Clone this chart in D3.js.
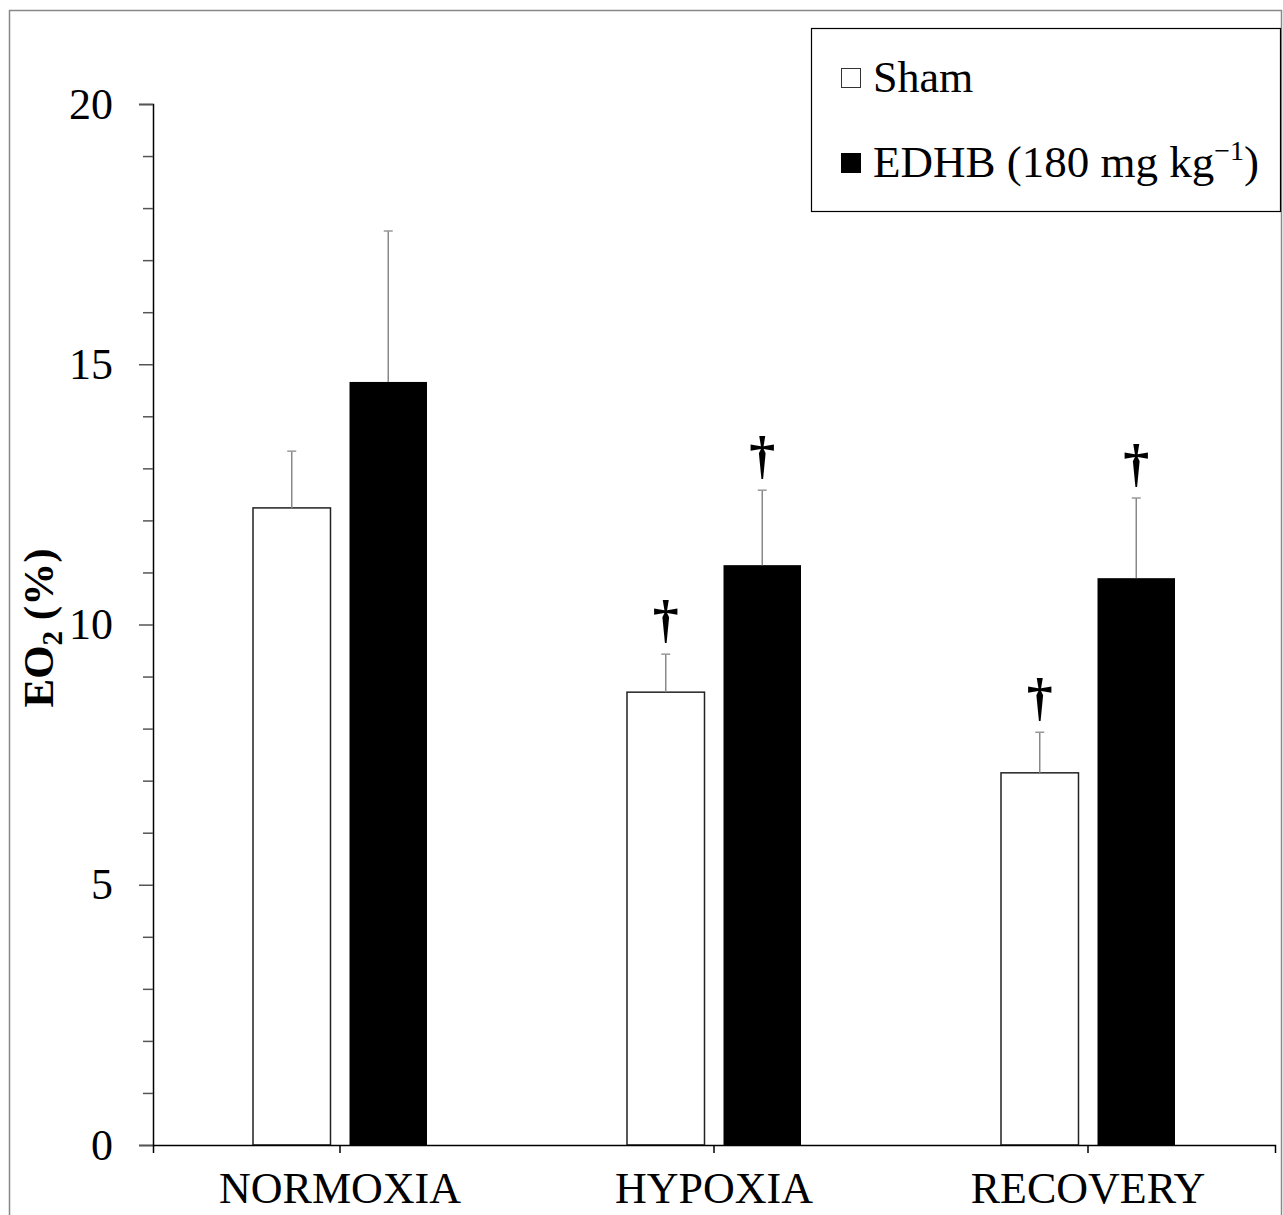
<!DOCTYPE html>
<html>
<head>
<meta charset="utf-8">
<script src="https://cdn.jsdelivr.net/npm/d3@7"></script>
<style>
  body { margin: 0; background: #fff; }
  text { font-family: "Liberation Serif", "Times New Roman", serif; }
</style>
</head>
<body>
<div id="chart"></div>
<script>
// data
const categories = ['NORMOXIA', 'HYPOXIA', 'RECOVERY'];
const seriesNames = ['Sham', 'EDHB'];
const shamMean = [12.24, 8.70, 7.15];
const shamErr = [1.09, 0.73, 0.78];
const edhbMean = [14.66, 11.14, 10.89];
const edhbErr = [2.90, 1.44, 1.54];
const shamSig = [false, true, true];
const edhbSig = [false, true, true];
const yTicks = d3.range(0, 21, 1);

var svgWidth = 1283;
var svgHeight = 1215;

var margin = { top: 104, right: 8, bottom: 70, left: 153 };
var chartWidth = svgWidth - margin.left - margin.right;
var chartHeight = svgHeight - margin.top - margin.bottom;

var svg = d3.select('#chart')
  .append('svg')
  .attr('width', svgWidth)
  .attr('height', svgHeight);

// outer frame
svg.append('rect')
  .attr('x', 9.5).attr('y', 10.5)
  .attr('width', 1272).attr('height', 1260)
  .attr('fill', 'none')
  .attr('stroke', '#888')
  .attr('stroke-width', 1.5);

var chartGroup = svg.append('g')
  .attr('transform', `translate(${margin.left}, ${margin.top})`);

// build rows from arrays
var rows = categories.map((c, i) => ({
  cat: c,
  vals: [
    { s: 'Sham', v: shamMean[i], e: shamErr[i], sig: shamSig[i] },
    { s: 'EDHB', v: edhbMean[i], e: edhbErr[i], sig: edhbSig[i] }
  ]
}));

var yScale = d3.scaleLinear().domain([0, 20]).range([chartHeight, 0]);
var xScale = d3.scaleBand().domain(categories).range([0, chartWidth]);
var groupW = 174;
var x1 = d3.scaleBand().domain(seriesNames)
  .range([(xScale.bandwidth() - groupW) / 2, (xScale.bandwidth() + groupW) / 2])
  .paddingInner(0.197);

// y axis
var yAxis = d3.axisLeft(yScale)
  .tickValues(yTicks)
  .tickSize(14)
  .tickPadding(26)
  .tickFormat(d => d % 5 === 0 ? d : '');
var yG = chartGroup.append('g').call(yAxis);
yG.select('.domain').attr('stroke', '#000').attr('stroke-width', 1.5);
yG.selectAll('.tick line')
  .attr('stroke', '#555').attr('stroke-width', 1.5)
  .attr('x2', d => d % 5 === 0 ? -14 : -10);
yG.selectAll('.tick text')
  .attr('font-size', 44)
  .attr('fill', '#000')
  .style('font-family', '"Liberation Serif", serif');

// bars
var groups = chartGroup.selectAll('.grp')
  .data(rows)
  .enter()
  .append('g')
  .attr('class', 'grp')
  .attr('transform', d => `translate(${xScale(d.cat)},0)`);

groups.selectAll('rect')
  .data(d => d.vals)
  .enter()
  .append('rect')
  .attr('x', d => x1(d.s))
  .attr('y', d => yScale(d.v))
  .attr('width', x1.bandwidth())
  .attr('height', d => chartHeight - yScale(d.v))
  .attr('fill', d => d.s === 'Sham' ? '#fff' : '#000')
  .attr('stroke', d => d.s === 'Sham' ? '#222' : 'none')
  .attr('stroke-width', 1.5);

// error bars
groups.selectAll('.err')
  .data(d => d.vals)
  .enter()
  .append('line')
  .attr('class', 'err')
  .attr('x1', d => x1(d.s) + x1.bandwidth() / 2)
  .attr('x2', d => x1(d.s) + x1.bandwidth() / 2)
  .attr('y1', d => yScale(d.v))
  .attr('y2', d => yScale(d.v + d.e))
  .attr('stroke', '#888').attr('stroke-width', 1.5);

groups.selectAll('.cap')
  .data(d => d.vals)
  .enter()
  .append('line')
  .attr('class', 'cap')
  .attr('x1', d => x1(d.s) + x1.bandwidth() / 2 - 4.5)
  .attr('x2', d => x1(d.s) + x1.bandwidth() / 2 + 4.5)
  .attr('y1', d => yScale(d.v + d.e))
  .attr('y2', d => yScale(d.v + d.e))
  .attr('stroke', '#999').attr('stroke-width', 1.5);

// significance daggers
groups.selectAll('.sig')
  .data(d => d.vals.filter(v => v.sig))
  .enter()
  .append('text')
  .attr('class', 'sig')
  .attr('x', d => x1(d.s) + x1.bandwidth() / 2)
  .attr('y', d => yScale(d.v + d.e) - 17)
  .attr('text-anchor', 'middle')
  .attr('font-size', 52)
  .attr('font-weight', 'bold')
  .text('\u2020');

// x axis
var xAxis = d3.axisBottom(xScale).tickSize(8).tickSizeOuter(8).tickPadding(19);
var xG = chartGroup.append('g')
  .attr('transform', `translate(0, ${chartHeight})`)
  .call(xAxis);
xG.select('.domain').attr('stroke', '#000').attr('stroke-width', 1.5);
xG.selectAll('.tick line').attr('stroke', '#000').attr('stroke-width', 1.5);
xG.selectAll('.tick text')
  .attr('font-size', 44)
  .attr('fill', '#000')
  .style('font-family', '"Liberation Serif", serif');

// y axis label
var yLabel = svg.append('text')
  .attr('transform', 'translate(53, 628) rotate(-90)')
  .attr('text-anchor', 'middle')
  .attr('font-size', 43)
  .attr('font-weight', 'bold');
yLabel.append('tspan').text('EO');
yLabel.append('tspan').attr('font-size', 29).attr('dy', 9).text('2');
yLabel.append('tspan').attr('dy', -9).text(' (%)');

// legend
var legend = svg.append('g');
legend.append('rect')
  .attr('x', 811.5).attr('y', 28.5)
  .attr('width', 469).attr('height', 183)
  .attr('fill', '#fff').attr('stroke', '#000').attr('stroke-width', 1.2);

var legendItems = [
  { name: seriesNames[0], fill: '#fff', y: 68 },
  { name: seriesNames[1], fill: '#000', y: 153 }
];
legendItems.forEach(function(it) {
  legend.append('rect')
    .attr('x', 841.5).attr('y', it.y + 0.5)
    .attr('width', 19).attr('height', 19)
    .attr('fill', it.fill)
    .attr('stroke', it.fill === '#fff' ? '#333' : '#000')
    .attr('stroke-width', 1);
});
legend.append('text')
  .attr('x', 873).attr('y', 92)
  .attr('font-size', 44)
  .text('Sham');
var edhbText = legend.append('text')
  .attr('x', 873).attr('y', 177)
  .attr('font-size', 45);
edhbText.append('tspan').text('EDHB (180 mg kg');
edhbText.append('tspan').attr('font-size', 28).attr('dy', -17).text('\u22121');
edhbText.append('tspan').attr('dy', 17).text(')');
</script>
</body>
</html>
